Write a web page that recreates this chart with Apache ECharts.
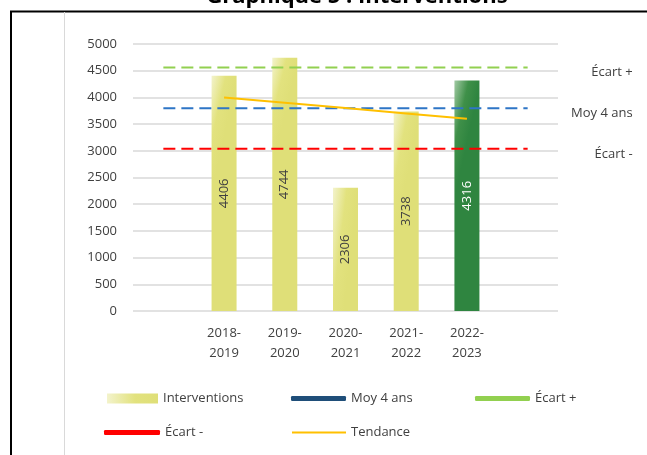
<!DOCTYPE html>
<html><head><meta charset="utf-8">
<script src="https://cdn.jsdelivr.net/npm/echarts@6/dist/echarts.min.js"></script>
<style>html,body{margin:0;padding:0;background:#fff}#c{width:647px;height:455px}</style>
</head><body><div id="c"></div>
<script>
var titleText = 'Graphique 5 : Interventions';
var categories = ['', '2018-\n2019', '2019-\n2020', '2020-\n2021', '2021-\n2022', '2022-\n2023', ''];
var interventions = [null, 4406, 4744, 2306, 3738, 4316, null];
var moy4ans = [3799, 3799, 3799, 3799, 3799, 3799, 3799];
var ecartPlus = [4558, 4558, 4558, 4558, 4558, 4558, 4558];
var ecartMinus = [3039, 3039, 3039, 3039, 3039, 3039, 3039];
var tendance = [null, 4000, 3900, 3800, 3700, 3600, null];
var yTicks = [0, 500, 1000, 1500, 2000, 2500, 3000, 3500, 4000, 4500, 5000];

var FONT = 'Open Sans';
var TXT = '#404040';
var yellowGrad = new echarts.graphic.LinearGradient(0, 0, 1, 0.024, [
  {offset: 0, color: '#f3f3cc'}, {offset: 0.55, color: '#e2e27e'}, {offset: 1, color: '#dfdf78'}]);
var greenGrad = new echarts.graphic.LinearGradient(0, 0, 1, 0.024, [
  {offset: 0, color: '#a2caa4'}, {offset: 0.55, color: '#3f9049'}, {offset: 1, color: '#2f8540'}]);

var barData = interventions.map(function (v, i) {
  if (i === 5) return {value: v, itemStyle: {color: greenGrad}, label: {color: '#ffffff'}};
  return {value: v};
});

function endLbl(dy) {
  return {show: true, formatter: '{a}', align: 'right', distance: 0, offset: [105, dy],
    color: TXT, fontFamily: FONT, fontSize: 13};
}
var legText = {fontFamily: FONT, fontSize: 13, color: TXT};
var dashed = [12, 6];
var chart = echarts.init(document.getElementById('c'));
chart.setOption({
  backgroundColor: '#ffffff',
  animation: false,
  title: {text: titleText, left: 352, textAlign: 'center', top: -19,
    textStyle: {fontFamily: FONT, fontSize: 22, fontWeight: 'bold', color: '#000'}},
  grid: {left: 133, right: 89, top: 44, bottom: 144},
  legend: [
    {data: [{name: 'Interventions', icon: 'rect'}], left: 102, top: 387, itemWidth: 51, itemHeight: 10, textStyle: legText},
    {data: [{name: 'Moy 4 ans', icon: 'roundRect', itemStyle: {color: '#1f4e79'}}], left: 286, top: 387, itemWidth: 55, itemHeight: 5, textStyle: legText},
    {data: [{name: 'Écart +', icon: 'roundRect', itemStyle: {color: '#92d050'}}], left: 470, top: 387, itemWidth: 55, itemHeight: 5, textStyle: legText},
    {data: [{name: 'Écart -', icon: 'roundRect', itemStyle: {color: '#ff0000'}}], left: 99, top: 421, itemWidth: 56, itemHeight: 5, textStyle: legText},
    {data: [{name: 'Tendance', icon: 'rect', itemStyle: {color: '#ffc000'}}], left: 287, top: 421, itemWidth: 54, itemHeight: 2, textStyle: legText}
  ],
  xAxis: {type: 'category', data: categories, boundaryGap: true,
    axisLine: {show: false}, axisTick: {show: false},
    axisLabel: {interval: 0, color: TXT, fontFamily: FONT, fontSize: 13, lineHeight: 20, margin: 12}},
  yAxis: {type: 'value', min: 0, max: 5000, interval: 500,
    axisLine: {show: false}, axisTick: {show: false},
    axisLabel: {color: TXT, fontFamily: FONT, fontSize: 13, margin: 16,
      formatter: function (v) { return yTicks.indexOf(v) >= 0 ? String(v) : ''; }},
    splitLine: {lineStyle: {color: '#d9d9d9', width: 1.5}}},
  graphic: [
    {type: 'line', shape: {x1: 10, y1: 11.5, x2: 647, y2: 11.5}, style: {stroke: '#000', lineWidth: 2}, z: 100},
    {type: 'line', shape: {x1: 11, y1: 11, x2: 11, y2: 455}, style: {stroke: '#000', lineWidth: 2}, z: 100},
    {type: 'line', shape: {x1: 64.5, y1: 12, x2: 64.5, y2: 455}, style: {stroke: '#d9d9d9', lineWidth: 1}, z: 100}
  ],
  series: [
    {name: 'Interventions', type: 'bar', data: barData, barWidth: 25, z: 1,
      itemStyle: {color: yellowGrad},
      label: {show: true, position: 'inside', rotate: 90, color: TXT, fontFamily: FONT, fontSize: 13}},
    {name: 'Moy 4 ans', type: 'line', data: moy4ans, symbol: 'none', z: 3, color: '#1f4e79',
      lineStyle: {color: '#2e75c6', width: 2, type: dashed}, endLabel: endLbl(5)},
    {name: 'Écart +', type: 'line', data: ecartPlus, symbol: 'none', z: 3, color: '#92d050',
      lineStyle: {color: '#92d050', width: 2, type: dashed}, endLabel: endLbl(5)},
    {name: 'Écart -', type: 'line', data: ecartMinus, symbol: 'none', z: 3, color: '#ff0000',
      lineStyle: {color: '#ff0000', width: 2, type: dashed}, endLabel: endLbl(6)},
    {name: 'Tendance', type: 'line', data: tendance, symbol: 'none', z: 4, color: '#ffc000',
      lineStyle: {color: '#ffc000', width: 2}}
  ]
});
</script></body></html>
